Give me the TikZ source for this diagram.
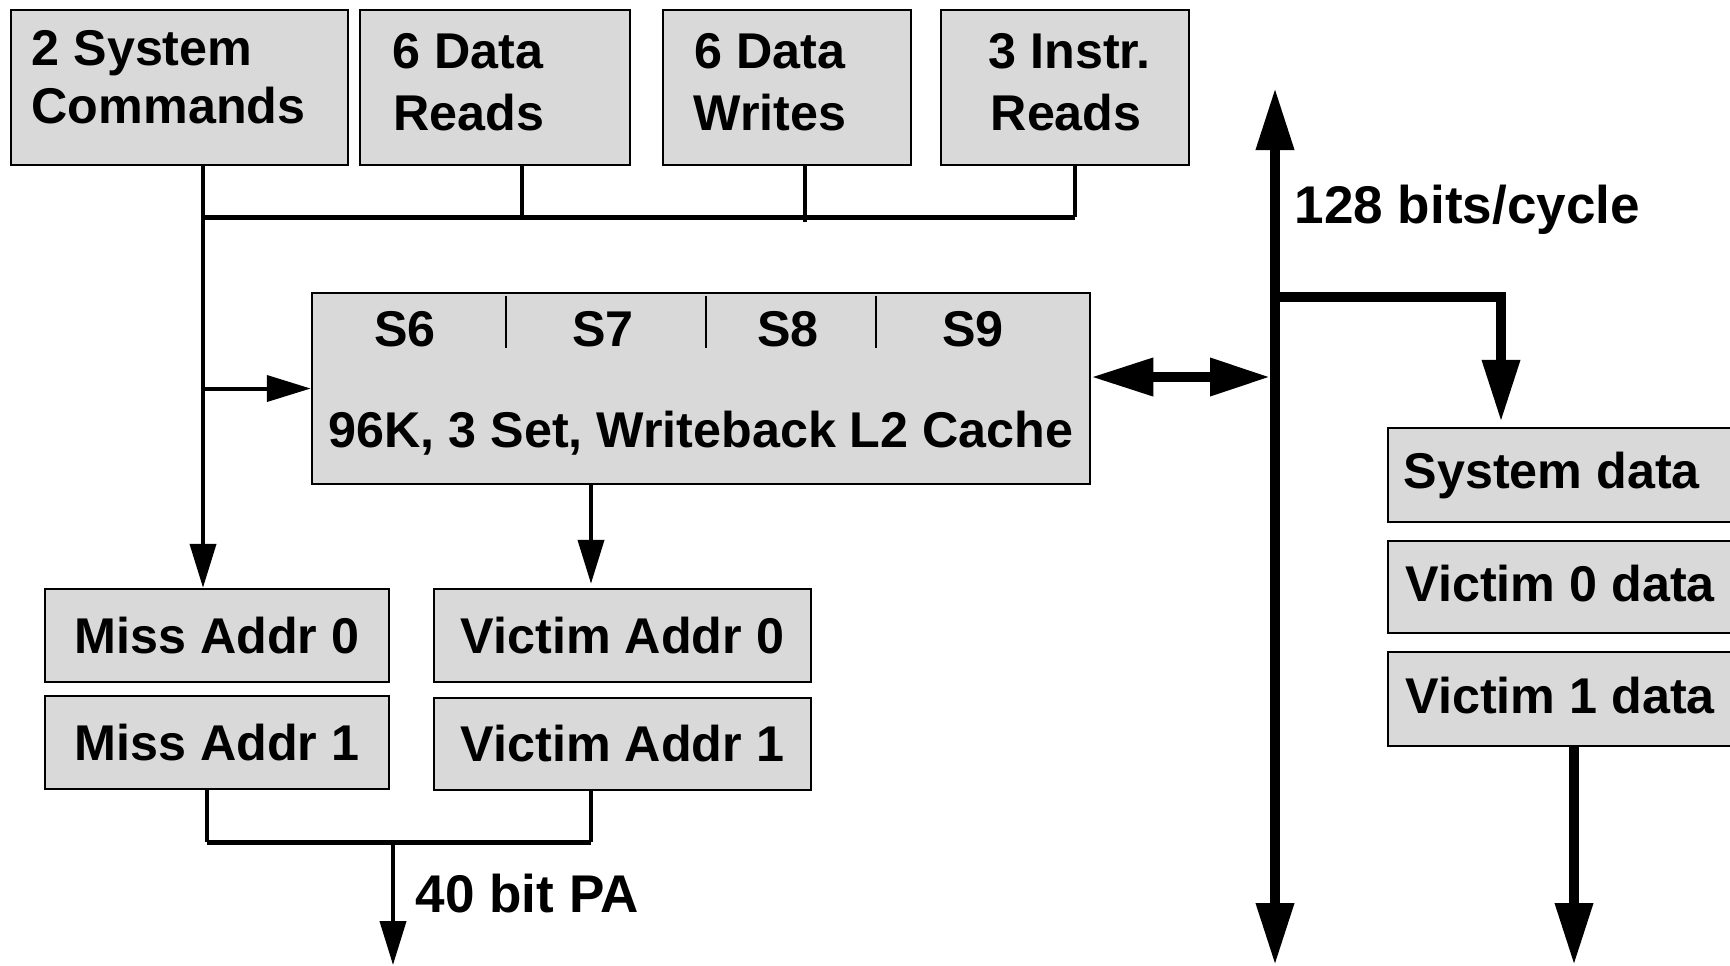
\documentclass[tikz,border=0pt]{standalone}
\usepackage{fontspec}
\setmainfont{Liberation Sans}
\usetikzlibrary{arrows.meta,fit}
\definecolor{boxgray}{HTML}{D9D9D9}
\begin{document}
\begin{tikzpicture}[x=0.1mm,y=-0.1mm,
  txt/.style={font=\fontsize{14.3pt}{17pt}\selectfont\bfseries, inner sep=0pt},
  bigtxt/.style={font=\fontsize{15.1pt}{18pt}\selectfont\bfseries, inner sep=0pt},
  blk/.style={draw=black, fill=boxgray, line width=0.25mm, inner sep=0pt},
  wire/.style={line width=0.4mm},
  buswire/.style={line width=0.5mm},
  arr/.style={line width=0.4mm, -{Triangle[length=4.4mm,width=2.6mm]}},
  bigarr/.style={line width=1mm, line join=miter, -{Triangle[length=6.2mm,width=3.6mm]}},
  bigdbl/.style={line width=1mm, {Triangle[length=6.2mm,width=3.6mm]}-{Triangle[length=6mm,width=3.6mm]}},
  divider/.style={line width=0.2mm}]
\path[use as bounding box] (0,0) rectangle (1730,965);
\clip (0,0) rectangle (1730,965);

% request sources
\node[blk, fit={(11,10) (348,165)}] (sc) {};
\node[blk, fit={(360,10) (630,165)}] (dr) {};
\node[blk, fit={(663,10) (911,165)}] (dw) {};
\node[blk, fit={(941,10) (1189,165)}] (ir) {};
\node[txt, anchor=base west] (scA) at (31,65) {2 System};
\node[txt, anchor=base west] (scB) at (31,123) {Commands};
\node[txt, anchor=base west] (drA) at (392,68) {6 Data};
\node[txt, anchor=base west] (drB) at (393,130) {Reads};
\node[txt, anchor=base west] (dwA) at (694,68) {6 Data};
\node[txt, anchor=base west] (dwB) at (693,130) {Writes};
\node[txt, anchor=base west] (irA) at (988,68) {3 Instr.};
\node[txt, anchor=base west] (irB) at (990,130) {Reads};

% L2 cache
\node[blk, fit={(312,293) (1090,484)}] (l2) {};
\draw[divider] (506,296) -- (506,348);
\draw[divider] (706,296) -- (706,348);
\draw[divider] (876,296) -- (876,348);
\node[txt, anchor=base] (s6) at (405,346) {S6};
\node[txt, anchor=base] (s7) at (603,346) {S7};
\node[txt, anchor=base] (s8) at (788,346) {S8};
\node[txt, anchor=base] (s9) at (973,346) {S9};
\node[txt, anchor=base] (l2t) at (701,447) {96K, 3 Set, Writeback L2 Cache};

% address buffers
\node[blk, fit={(45,589) (389,682)}] (ma0) {};
\node[blk, fit={(45,696) (389,789)}] (ma1) {};
\node[blk, fit={(434,589) (811,682)}] (va0) {};
\node[blk, fit={(434,698) (811,790)}] (va1) {};
\node[txt] (ma0t) at (ma0.center) {Miss Addr 0};
\node[txt] (ma1t) at (ma1.center) {Miss Addr 1};
\node[txt] (va0t) at (va0.center) {Victim Addr 0};
\node[txt] (va1t) at (va1.center) {Victim Addr 1};

% data buffers
\node[blk, fit={(1388,428) (1745,522)}] (sd) {};
\node[blk, fit={(1388,541) (1745,633)}] (vd0) {};
\node[blk, fit={(1388,652) (1745,746)}] (vd1) {};
\node[txt, anchor=base west] (sdt) at (1403,488) {System data};
\node[txt, anchor=base west] (vd0t) at (1405,601) {Victim 0 data};
\node[txt, anchor=base west] (vd1t) at (1405,713) {Victim 1 data};

% request bus
\coordinate (tapC) at (203,217);
\coordinate (tapR) at (522,217);
\coordinate (tapW) at (805,217);
\coordinate (tapI) at (1075,217);
\draw[wire] (dr.south -| tapR) -- (tapR);
\draw[wire] (dw.south -| tapW) -- ([yshift=-0.5mm]tapW);
\draw[wire] (ir.south -| tapI) -- (tapI);
\draw[buswire] ([xshift=0.2mm]tapC) -- (tapI);
\draw[arr] (sc.south -| tapC) -- (ma0.north -| tapC);
\draw[arr] (tapC |- l2.west) -- (l2.west);

% victim address path
\coordinate (tapV) at (591,0);
\draw[arr] (l2.south -| tapV) -- ([yshift=0.4mm]va0.north -| tapV);

% physical address out
\coordinate (j1) at (207,842);
\coordinate (j2) at (591,842);
\coordinate (pa) at (393,842);
\coordinate (paEnd) at (393,965);
\draw[wire] (ma1.south -| j1) -- (j1);
\draw[wire] (va1.south -| j2) -- (j2);
\draw[buswire] (j1) -- (j2);
\draw[arr] (pa) -- (paEnd);
\node[bigtxt, anchor=base west] (pal) at (415,912) {40 bit PA};

% data bus
\coordinate (busTop) at (1275,88);
\coordinate (busBot) at (1275,965);
\coordinate (br) at (1275,297);
\coordinate (brC) at (1501,297);
\coordinate (dbl) at (1270,377);
\coordinate (vdOut) at (1574,965);
\draw[line width=1mm, {Triangle[length=6.2mm,width=3.6mm]}-{Triangle[length=6.2mm,width=3.6mm]}] (busBot) -- (busTop);
\draw[bigarr] (br) -- (brC) -- ([yshift=0.5mm]sd.north -| brC);
\draw[bigdbl] (l2.east |- dbl) -- (dbl);
\draw[bigarr] (vd1.south -| vdOut) -- (vdOut);
\node[bigtxt, anchor=base west] (bw) at (1294,223) {128 bits/cycle};
\end{tikzpicture}
\end{document}
